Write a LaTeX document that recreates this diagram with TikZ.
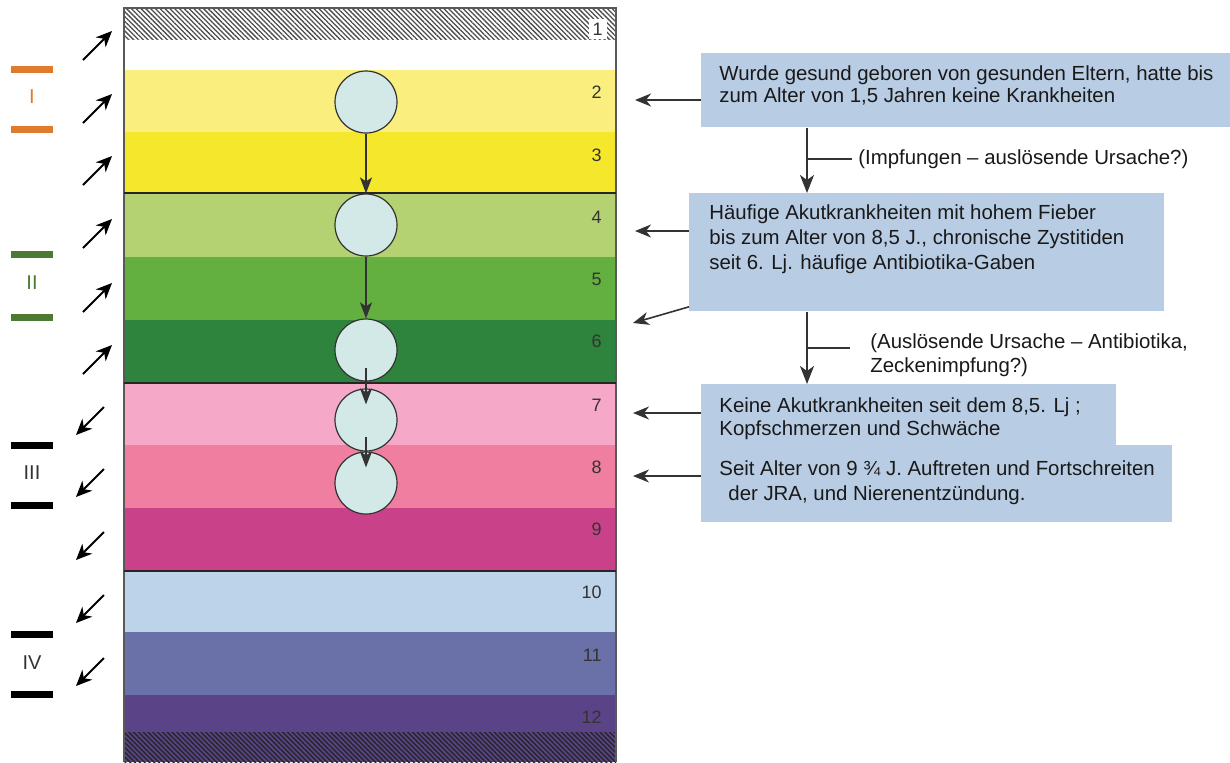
\documentclass[tikz,border=0pt]{standalone}
\usepackage{fontspec}
\setmainfont{Liberation Sans}
\usepackage{tikz}
\usetikzlibrary{positioning,calc,arrows.meta,patterns.meta}
% --- layer colours (top to bottom) ---
\definecolor{layII}{HTML}{F9EE7E}
\definecolor{layIII}{HTML}{F5E72C}
\definecolor{layIV}{HTML}{B5D273}
\definecolor{layV}{HTML}{63AF3F}
\definecolor{layVI}{HTML}{2F843D}
\definecolor{layVII}{HTML}{F5A8C8}
\definecolor{layVIII}{HTML}{F07EA0}
\definecolor{layIX}{HTML}{C94289}
\definecolor{layX}{HTML}{BDD3EA}
\definecolor{layXI}{HTML}{6A70A8}
\definecolor{layXII}{HTML}{5A4387}
% --- other colours ---
\definecolor{stagefill}{HTML}{D3E9E8}
\definecolor{boxfill}{HTML}{B8CCE4}
\definecolor{phaseI}{HTML}{E07B2D}
\definecolor{phaseII}{HTML}{4C7A30}
\definecolor{inkgray}{HTML}{333333}
\tikzset{
  % --- stages in the column ---
  stage/.style={circle, draw=inkgray, line width=0.6pt, fill=stagefill,
                minimum size=31pt, inner sep=0pt},
  stageflow/.style={-{Stealth[length=8pt,width=6pt,inset=2pt]},
                    line width=0.9pt, draw=inkgray},
  rownum/.style={font=\fontsize{9}{10}\selectfont, text=inkgray,
                 anchor=east, inner sep=1pt},
  % --- left side: phases and arrows ---
  phaselabel/.style={font=\fontsize{10}{11}\selectfont, inner sep=0pt},
  sidearrow/.style={-{Stealth[length=8pt,width=7pt,inset=2.5pt]},
                    line width=0.9pt, draw=black},
  % --- right side: text boxes ---
  infobox/.style={fill=boxfill, inner sep=0pt, anchor=north west},
  infotext/.style={font=\fontsize{10.2}{12}\selectfont, align=left,
                   inner sep=0pt, anchor=north west, text=black!90},
  backarrow/.style={-{Stealth[length=8pt,width=6.5pt,inset=2.5pt]},
                    line width=0.8pt, draw=inkgray},
  downflow/.style={-{Stealth[length=9pt,width=7pt,inset=2.5pt]},
                   line width=1pt, draw=inkgray},
  tick/.style={line width=0.8pt, draw=inkgray},
}

\begin{document}
\begin{tikzpicture}[x=0.5pt,y=-0.5pt]
  \useasboundingbox (0,0) rectangle (1230,762);

  % --- column of layers ---
  \fill[white] (124,8) rectangle (616,40);
  \fill[pattern={Lines[angle=-45,distance=1.7pt,line width=0.65pt]},
        pattern color=black!70] (124,8) rectangle (616,40);
  \foreach \ya/\yb/\col in {40/70/white, 70/132/layII, 132/193/layIII,
      193/257/layIV, 257/320/layV, 320/383/layVI, 383/445/layVII,
      445/508/layVIII, 508/571/layIX, 571/632/layX, 632/695/layXI,
      695/732/layXII}
    \fill[\col] (124,\ya) rectangle (616,\yb);
  \fill[layXII] (124,732) rectangle (616,762);
  \fill[pattern={Lines[angle=-45,distance=1.7pt,line width=0.7pt]},
        pattern color=black!85] (124,732) rectangle (616,762);
  \draw[line width=0.9pt, draw=black!65] (124,762) -- (124,8) -- (616,8) -- (616,762);
  \foreach \y in {193,383,571}
    \draw[line width=1pt, draw=black!85] (124,\y) -- (616,\y);

  % --- layer numbers ---
  \node[rownum, fill=white, inner sep=2pt] (n1) at (607,29) {1};
  \foreach \n/\y in {2/92,3/155,4/217,5/279,6/341,7/405,8/467,9/529,
                     10/592,11/655,12/717}
    \node[rownum] (n\n) at (604,\y) {\n};

  % --- stages ---
  \node[stage] (c1) at (366,102) {};
  \node[stage] (c2) at (366,225) {};
  \node[stage] (c3) at (366,350) {};
  \node[stage] (c4) at (366,420) {};
  \node[stage] (c5) at (366,483) {};
  \draw[stageflow] (c1) -- (c2);
  \draw[stageflow] (c2) -- (c3);
  \draw[stageflow] ($(c3.center)+(0,18)$) -- ($(c4.north)+(0,16)$);
  \draw[stageflow] ($(c4.center)+(0,17)$) -- ($(c5.north)+(0,16)$);

  % --- phases on the left ---
  \foreach \ya/\yb/\ym/\col/\tcol/\txt in {69/129/97/phaseI/phaseI/I,
      254/317/283/phaseII/phaseII/II, 445/505/473/black/inkgray/III,
      634/694/663/black/inkgray/IV} {
    \fill[\col] (11,\ya-3.5) rectangle (53,\ya+3.5);
    \fill[\col] (11,\yb-3.5) rectangle (53,\yb+3.5);
    \node[phaselabel, text=\tcol] (ph\txt) at (32,\ym) {\txt};
  }
  \foreach \s [count=\i] in {60,123,185,248,312,374} {
    \coordinate (up\i) at (83,\s);
    \draw[sidearrow] (up\i) -- ++(29,-29);
  }
  \foreach \s [count=\i] in {407,469,532,595,658} {
    \coordinate (dn\i) at (104,\s);
    \draw[sidearrow] (dn\i) -- ++(-28,28);
  }

  % --- text boxes on the right ---
  \node[infobox, minimum width=264.5pt, minimum height=37pt] (b1) at (701,53) {};
  \node[infobox, minimum width=237.5pt, minimum height=59pt] (b2) at (689,193) {};
  \node[infobox, minimum width=207.5pt, minimum height=31.5pt] (b3) at (701,384) {};
  \node[infobox, minimum width=235.5pt, minimum height=38.5pt] (b4) at (701,445) {};

  \node[infotext, font=\fontsize{10.2}{11}\selectfont] (t1) at (719,65)
    {Wurde gesund geboren von gesunden Eltern, hatte bis\\zum Alter von 1,5 Jahren keine Krankheiten};
  \node[infotext, font=\fontsize{10.2}{12.5}\selectfont] (t2) at (709,204)
    {Häufige Akutkrankheiten mit hohem Fieber\\bis zum Alter von 8,5 J., chronische Zystitiden\\seit 6. Lj. häufige Antibiotika-Gaben};
  \node[infotext, font=\fontsize{10.2}{11.5}\selectfont] (t3) at (719,397)
    {Keine Akutkrankheiten seit dem 8,5. Lj ;\\Kopfschmerzen und Schwäche};
  \node[infotext, font=\fontsize{10.2}{12.5}\selectfont] (t4) at (719,460)
    {Seit Alter von 9 ¾ J. Auftreten und Fortschreiten\\\hspace*{4.5pt}der JRA, und Nierenentzündung.};

  % --- arrows from the boxes to the layers ---
  \coordinate (p2) at (635,100);
  \coordinate (p4) at (635,231);
  \coordinate (p6) at (633,323);
  \coordinate (p7) at (633,413);
  \coordinate (p8) at (633,476);
  \draw[backarrow] (b1.west |- p2) -- (p2);
  \draw[backarrow] (b2.west |- p4) -- (p4);
  \draw[backarrow] ($(b2.south west)+(0,-5)$) -- (p6);
  \draw[backarrow] (b3.west |- p7) -- (p7);
  \draw[backarrow] (b4.west |- p8) -- (p8);

  % --- causes between the boxes ---
  \coordinate (vx) at (807,0);
  \draw[downflow] (b1.south -| vx) -- (b2.north -| vx);
  \draw[downflow] (b2.south -| vx) -- (b3.north -| vx);
  \node[infotext, anchor=west] (l1) at (858,159) {(Impfungen – auslösende Ursache?)};
  \node[infotext] (l2) at (870,333)
    {(Auslösende Ursache – Antibiotika,\\Zeckenimpfung?)};
  \coordinate (k1) at ($(l1.west)+(-6,0)$);
  \coordinate (k2) at ($(l2.north west)+(-20,15)$);
  \draw[tick] (vx |- k1) -- (k1);
  \draw[tick] (vx |- k2) -- (k2);
\end{tikzpicture}
\end{document}
